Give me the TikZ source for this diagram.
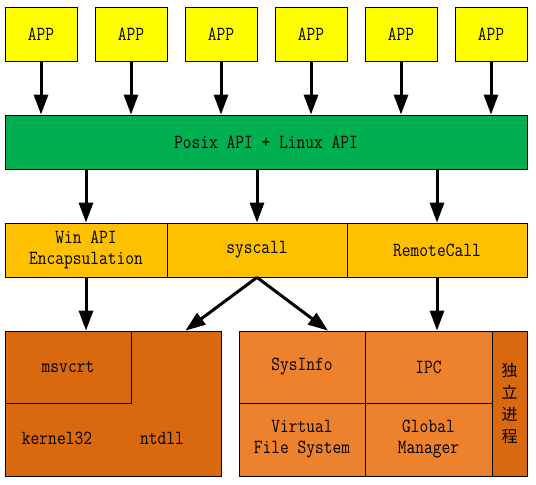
\documentclass[tikz,border=0pt]{standalone}
\usepackage{fontspec}
\setmonofont{Latin Modern Mono}[FakeStretch=0.85]
\newfontfamily\cjk{Noto Sans CJK SC}
\usetikzlibrary{arrows.meta,calc}

\definecolor{appyellow}{RGB}{255,255,0}
\definecolor{apigreen}{RGB}{0,176,80}
\definecolor{layergold}{RGB}{255,192,0}
\definecolor{modorange}{RGB}{238,130,44}
\definecolor{ntorange}{RGB}{217,105,14}

\tikzset{
  box/.style={draw,line width=0.8pt,inner sep=0pt,align=center,
    font=\ttfamily\fontsize{20}{21}\selectfont},
  app/.style={box,fill=appyellow,minimum width=72pt,minimum height=54pt},
  layer/.style={box,fill=layergold,minimum height=54pt},
  module/.style={box,fill=modorange},
  ntpart/.style={box,fill=ntorange},
  label/.style={inner sep=0pt,font=\ttfamily\fontsize{20}{21}\selectfont},
  call/.style={line width=3pt,-{Triangle[length=20pt,width=14pt]}}
}

\begin{document}
\begin{tikzpicture}[x=1pt,y=-1pt]
    \useasboundingbox (0,0) rectangle (536,485);
    % applications
    \node [app] (app1) at (41,34) {APP};
    \node [app] (app2) at (131,34) {APP};
    \node [app] (app3) at (221,34) {APP};
    \node [app] (app4) at (311,34) {APP};
    \node [app] (app5) at (401,34) {APP};
    \node [app] (app6) at (491,34) {APP};
    % api layer
    \node [box, fill=apigreen, minimum width=522pt, minimum height=54pt] (posix) at (266,142)
      {Posix API + Linux API};
    % call layer
    \node [layer, minimum width=162pt] (winapi) at (86,250) {Win API\\Encapsulation};
    \node [layer, minimum width=180pt] (syscall) at (257,250) {syscall};
    \node [layer, minimum width=180pt] (remote) at (437,250) {RemoteCall};
    % windows dlls
    \node [ntpart, minimum width=216pt, minimum height=145pt] (ntbox) at (113,403.5) {};
    \node [ntpart, minimum width=126pt, minimum height=72pt] (msvcrt) at (68,367) {msvcrt};
    \node [label] (kernel) at (57,438) {kernel32};
    \node [label] (ntdll) at (162,438) {ntdll};
    % modules
    \node [module, minimum width=126pt, minimum height=72pt] (sysinfo) at (302,367) {SysInfo};
    \node [module, minimum width=127pt, minimum height=72pt] (ipc) at (428.5,367) {IPC};
    \node [module, minimum width=126pt, minimum height=73pt] (vfs) at (302,439.5) {Virtual\\File System};
    \node [module, minimum width=127pt, minimum height=73pt] (global) at (428.5,439.5) {Global\\Manager};
    \node [ntpart, minimum width=35pt, minimum height=145pt, font=\cjk\fontsize{16}{22}\selectfont] (proc)
      at (509.5,403.5) {独\\立\\进\\程};
    % connectors
    \draw [call] (app1.south) -- (app1.south |- posix.north);
    \draw [call] (app2.south) -- (app2.south |- posix.north);
    \draw [call] (app3.south) -- (app3.south |- posix.north);
    \draw [call] (app4.south) -- (app4.south |- posix.north);
    \draw [call] (app5.south) -- (app5.south |- posix.north);
    \draw [call] (app6.south) -- (app6.south |- posix.north);
    \draw [call] (posix.south -| winapi) -- (winapi.north);
    \draw [call] (posix.south -| syscall) -- (syscall.north);
    \draw [call] (posix.south -| remote) -- (remote.north);
    \draw [call] (winapi.south) -- (winapi.south |- ntbox.north);
    \draw [call] (syscall.south) -- ($(ntbox.north east)+(-36pt,0)$);
    \draw [call] (syscall.south) -- ($(sysinfo.north)+(26pt,0)$);
    \draw [call] (remote.south) -- (remote.south |- ipc.north);
\end{tikzpicture}
\end{document}
